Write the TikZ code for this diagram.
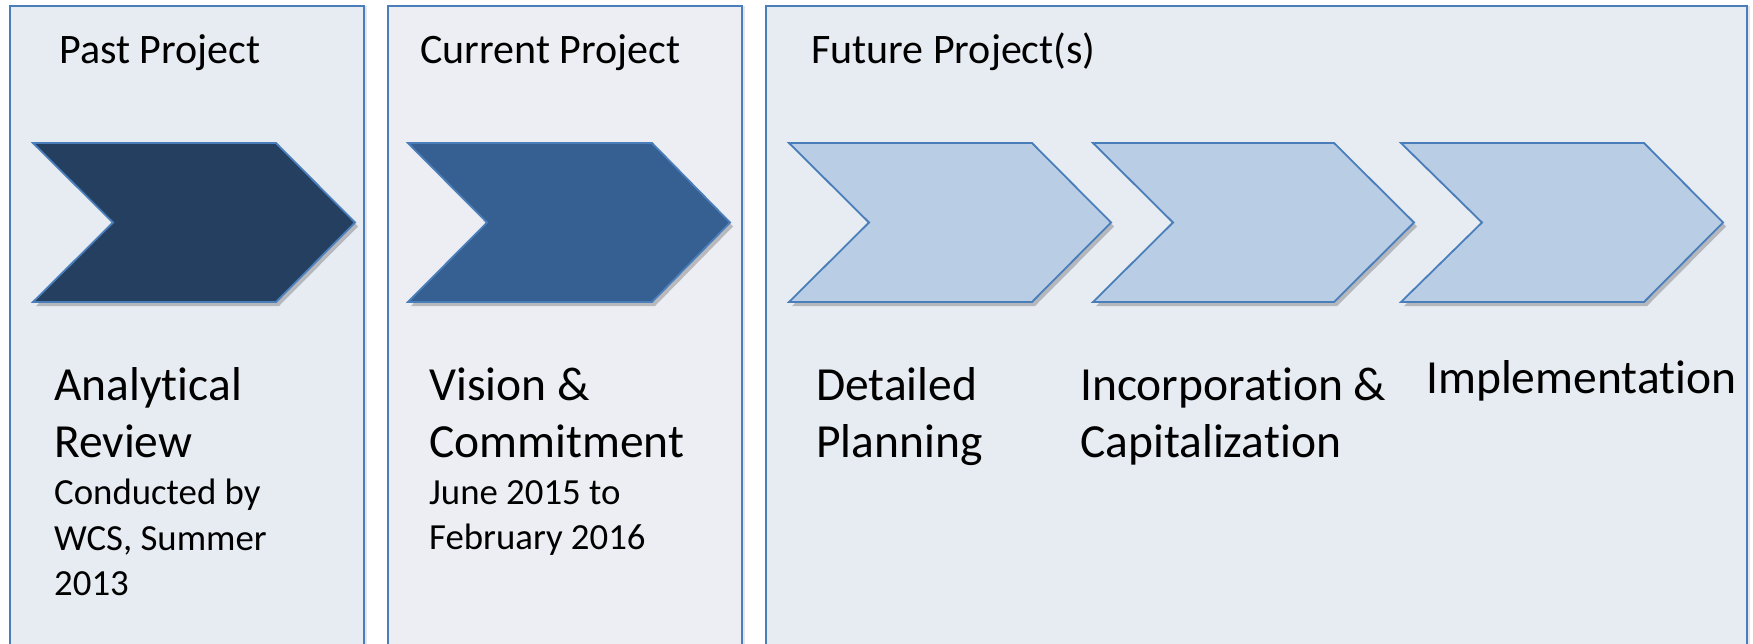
\documentclass[tikz,border=0pt]{standalone}
\usepackage{fontspec}
\setmainfont{Carlito}[Ligatures={NoCommon}]
\usetikzlibrary{shadows}
\definecolor{edgeblue}{HTML}{4A7EBB}
\definecolor{panelA}{HTML}{E7EBF2}
\definecolor{panelB}{HTML}{ECEEF3}
\definecolor{chevDark}{HTML}{243F60}
\definecolor{chevMid}{HTML}{366092}
\definecolor{chevLight}{HTML}{B9CDE5}
\tikzset{
  panel/.style={draw=edgeblue, line width=1.8pt,
    drop shadow={shadow xshift=3pt, shadow yshift=0pt, opacity=0.10, fill=black}},
  chev/.style={draw=edgeblue, line width=1.8pt, line join=miter,
    drop shadow={shadow xshift=3pt, shadow yshift=-4pt, opacity=0.22, fill=black}},
  headtxt/.style={anchor=base west, inner sep=0pt, font=\fontsize{42}{50}\selectfont},
  bigtxt/.style={anchor=base west, inner sep=0pt, font=\fontsize{47.5}{57}\selectfont},
  smalltxt/.style={anchor=base west, inner sep=0pt, font=\fontsize{36.8}{45}\selectfont},
}
\begin{document}
\begin{tikzpicture}[x=1pt,y=-1pt]
\useasboundingbox (0,0) rectangle (1753,643);
\fill[white] (0,0) rectangle (1753,643);
\clip (0,0) rectangle (1753,643);

% panels
\path[panel, fill=panelA] (10,6) rectangle (364,700);
\path[panel, fill=panelB] (388,6) rectangle (742,700);
\path[panel, fill=panelA] (766,6) rectangle (1747,700);

% chevrons
\path[chev, fill=chevDark]  (33,143) -- (276,143) -- (355,222.5) -- (276,302) -- (33,302) -- (113,222.5) -- cycle;
\path[chev, fill=chevMid]   (408,143) -- (652,143) -- (730,222.5) -- (652,302) -- (408,302) -- (487,222.5) -- cycle;
\path[chev, fill=chevLight] (789,143) -- (1032,143) -- (1111,222.5) -- (1032,302) -- (789,302) -- (869,222.5) -- cycle;
\path[chev, fill=chevLight] (1093,143) -- (1334,143) -- (1414,222.5) -- (1334,302) -- (1093,302) -- (1173,222.5) -- cycle;
\path[chev, fill=chevLight] (1401,143) -- (1644,143) -- (1723,222.5) -- (1644,302) -- (1401,302) -- (1482,222.5) -- cycle;

% headers
\node[headtxt] (hpast) at (59,63) {Past Project};
\node[headtxt] (hcur) at (420,63) {Current Project};
\node[headtxt] (hfut) at (811,63) {Future Project(s)};

% past
\node[bigtxt] (ar1) at (54,400) {Analytical};
\node[bigtxt] (ar2) at (54,457) {Review};
\node[smalltxt] (ar3) at (54,504) {Conducted by};
\node[smalltxt] (ar4) at (54,550) {WCS, Summer};
\node[smalltxt] (ar5) at (54,595) {2013};

% current
\node[bigtxt] (vc1) at (429,400) {Vision \&};
\node[bigtxt] (vc2) at (429,457) {Commitment};
\node[smalltxt] (vc3) at (429,504) {June 2015 to};
\node[smalltxt] (vc4) at (429,549) {February 2016};

% future
\node[bigtxt] (dp1) at (816,400) {Detailed};
\node[bigtxt] (dp2) at (816,457) {Planning};
\node[bigtxt] (ic1) at (1080,400) {Incorporation \&};
\node[bigtxt] (ic2) at (1080,457) {Capitalization};
\node[bigtxt] (im1) at (1426,393) {Implementation};
\end{tikzpicture}
\end{document}
